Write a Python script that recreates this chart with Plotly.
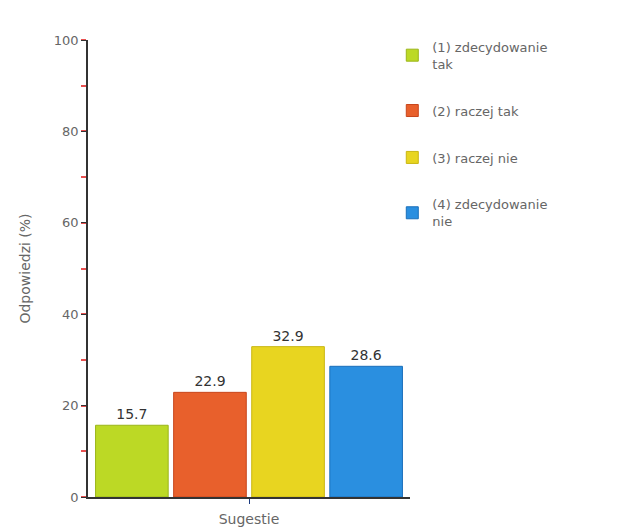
import plotly.graph_objects as go

categories = ["Sugestie"]
series_names = ["(1) zdecydowanie<br>tak", "(2) raczej tak", "(3) raczej nie", "(4) zdecydowanie<br>nie"]
series_values = [15.7, 22.9, 32.9, 28.6]
colors = ["#bcd925", "#e8602c", "#e8d520", "#2a8fe0"]
edge_colors = ["#9bb51a", "#c8461c", "#c9b612", "#1a6fba"]
y_ticks = [0, 20, 40, 60, 80, 100]

fig = go.Figure()
for i, (name, val) in enumerate(zip(series_names, series_values)):
    fig.add_trace(go.Bar(
        x=categories, y=[val], name=name,
        marker=dict(color=colors[i], line=dict(color=edge_colors[i], width=1)),
        text=[f"{val:.1f}"], textposition="outside",
        textfont=dict(family="DejaVu Sans", size=14, color="#333"),
        cliponaxis=False, legendgroup=str(i),
    ))

fig.update_layout(
    width=609, height=519,
    margin=dict(l=80, r=207, t=32, b=30),
    paper_bgcolor="white", plot_bgcolor="white",
    barmode="group", bargap=0.03, bargroupgap=0.07,
    font=dict(family="DejaVu Sans", size=12, color="#666"),
    legend=dict(x=0.945, y=1.018, xanchor="left", yanchor="top",
                font=dict(size=13, color="#666"), tracegroupgap=27,
                itemwidth=30, traceorder="grouped"),
    showlegend=True,
)
fig.update_yaxes(
    range=[0, 100], tickvals=y_ticks, showgrid=False, zeroline=False,
    showline=True, linecolor="#333", linewidth=1.5, automargin=False,
    ticks="outside", ticklen=5, tickcolor="#333",
    minor=dict(dtick=10, tick0=0, ticks="outside", ticklen=5, tickwidth=1.5,
               tickcolor="#e85050", showgrid=False),
    title=dict(text="Odpowiedzi (%)", font=dict(size=14, color="#666"), standoff=20),
    tickfont=dict(size=13, color="#666"),
)
fig.update_xaxes(
    showgrid=False, showline=True, linecolor="#333", linewidth=1.5, automargin=False,
    ticks="outside", ticklen=5, tickcolor="#1a3a80", showticklabels=False,
    title=dict(text="Sugestie", font=dict(size=14, color="#666"), standoff=12),
)
fig.write_html("out.html")
